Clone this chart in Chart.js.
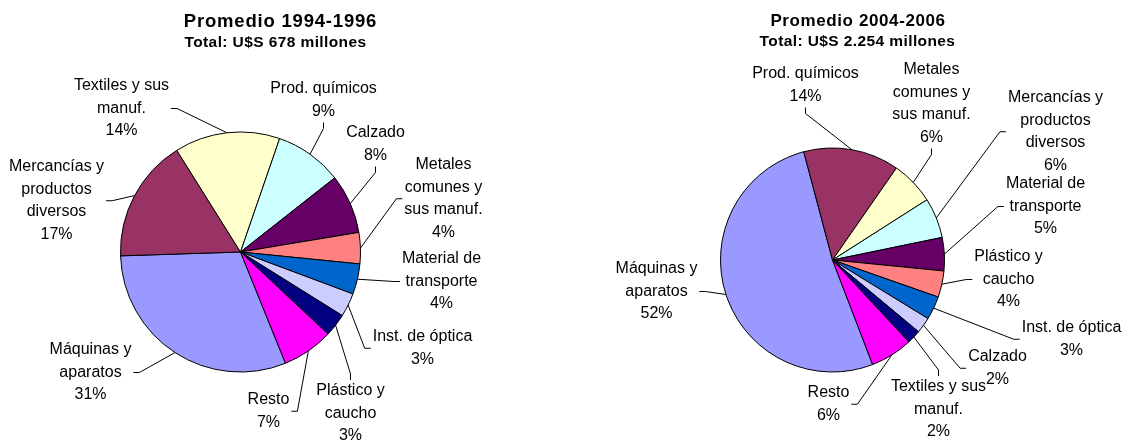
<!DOCTYPE html>
<html>
<head>
<meta charset="utf-8">
<script src="https://cdn.jsdelivr.net/npm/chart.js@4.4.1/dist/chart.umd.min.js"></script>
<style>
  body { margin: 0; background: #fff; width: 1122px; height: 441px; overflow: hidden; position: relative; }
  canvas { position: absolute; top: 0; }
</style>
</head>
<body>
<canvas id="chart1994" width="561" height="441" style="left:0"></canvas>
<canvas id="chart2004" width="561" height="441" style="left:561px"></canvas>
<script>
// Excel default pie palette, applied by slice order
const palette = ['#9999FF', '#993366', '#FFFFCC', '#CCFFFF', '#660066', '#FF8080', '#0066CC', '#CCCCFF', '#000080', '#FF00FF'];

// Promedio 1994-1996 (share of total, %)
const categories1994 = [
    ['Máquinas y', 'aparatos'], ['Mercancías y', 'productos', 'diversos'], ['Textiles y sus', 'manuf.'],
    ['Prod. químicos'], ['Calzado'], ['Metales', 'comunes y', 'sus manuf.'], ['Material de', 'transporte'],
    ['Inst. de óptica'], ['Plástico y', 'caucho'], ['Resto']
];
const shares1994 = [30.6, 16.6, 14.2, 9.1, 8.0, 4.2, 4.1, 3.2, 3.1, 6.9];

// Promedio 2004-2006 (share of total, %)
const categories2004 = [
    ['Máquinas y', 'aparatos'], ['Prod. químicos'], ['Metales', 'comunes y', 'sus manuf.'],
    ['Mercancías y', 'productos', 'diversos'], ['Material de', 'transporte'], ['Plástico y', 'caucho'],
    ['Inst. de óptica'], ['Calzado'], ['Textiles y sus', 'manuf.'], ['Resto']
];
const shares2004 = [51.7, 13.8, 6.3, 5.8, 4.8, 3.8, 3.4, 2.3, 2.0, 6.1];

// label placement, offset from the pie centre (x of text centre, y of first line)
const spots1994 = [[-150, 98], [-184, -85], [-119, -166], [83, -163], [135, -119], [203, -87], [201, 7], [182, 85], [110, 139], [28, 148]];
const spots2004 = [[-176, 9], [-27, -186], [99, -190], [223, -162], [213, -76], [176, -3], [239, 68], [165, 97], [106, 127], [-4, 133]];

// draws titles, outside labels and leader lines
const pieLabels = {
    id: 'pieLabels',
    afterDraw(chart, args, opts) {
        const ctx = chart.ctx;
        const arcs = chart.getDatasetMeta(0).data;
        const values = chart.data.datasets[0].data;
        const total = values.reduce((a, b) => a + b, 0);
        const lineH = 22.5;

        ctx.save();
        ctx.fillStyle = '#000';
        ctx.strokeStyle = '#000';
        ctx.lineWidth = 1;
        ctx.textAlign = 'center';
        ctx.textBaseline = 'middle';

        opts.titles.forEach(t => {
            ctx.font = 'bold ' + t.size + 'px "Liberation Sans", Arial, sans-serif';
            ctx.letterSpacing = t.spacing + 'px';
            ctx.fillText(t.text, t.x, t.y);
        });
        ctx.letterSpacing = '0px';
        ctx.font = '16px "Liberation Sans", Arial, sans-serif';

        arcs.forEach((arc, i) => {
            const lines = chart.data.labels[i].concat(Math.round(values[i] / total * 100) + '%');
            const cx = arc.x + opts.spots[i][0];
            const top = arc.y + opts.spots[i][1];
            lines.forEach((s, k) => ctx.fillText(s, cx, top + k * lineH));

            const w = Math.max(...lines.map(s => ctx.measureText(s).width));
            const x0 = cx - w / 2 - 2, x1 = cx + w / 2 + 2;
            const y0 = top - 11, y1 = top + (lines.length - 1) * lineH + 11;
            const midY = (y0 + y1) / 2;

            const mid = (arc.startAngle + arc.endAngle) / 2;
            const px = arc.x + Math.cos(mid) * arc.outerRadius;
            const py = arc.y + Math.sin(mid) * arc.outerRadius;

            let ex, ey, tx, ty;
            if (px < x0) { ex = x0; ey = midY; tx = x0 - 6; ty = midY; }
            else if (px > x1) { ex = x1; ey = midY; tx = x1 + 6; ty = midY; }
            else if (py < y0) { ex = cx; ey = y0; tx = cx; ty = y0 - 6; }
            else { ex = cx; ey = y1; tx = cx; ty = y1 + 6; }

            ctx.beginPath();
            ctx.moveTo(ex, ey);
            ctx.lineTo(tx, ty);
            ctx.lineTo(px, py);
            ctx.stroke();
        });
        ctx.restore();
    }
};

function makePie(id, categories, shares, rotation, radius, padding, spots, titles) {
    return new Chart(document.getElementById(id), {
        type: 'pie',
        data: {
            labels: categories,
            datasets: [{
                data: shares,
                backgroundColor: palette,
                borderColor: '#000',
                borderWidth: 1
            }]
        },
        options: {
            responsive: false,
            animation: false,
            devicePixelRatio: 1,
            rotation: rotation,
            radius: radius,
            layout: { padding: padding },
            plugins: {
                legend: { display: false },
                tooltip: { enabled: false },
                pieLabels: { spots: spots, titles: titles }
            }
        },
        plugins: [pieLabels]
    });
}

makePie('chart1994', categories1994, shares1994, 158, 120,
    { left: 0, right: 80, top: 63, bottom: 0 }, spots1994, [
        { text: 'Promedio 1994-1996', x: 280.5, y: 21.5, size: 18.5, spacing: 0.8 },
        { text: 'Total: U$S 678 millones', x: 275.5, y: 43, size: 15.5, spacing: 0.4 }
    ]);

makePie('chart2004', categories2004, shares2004, 159, 112,
    { left: 0, right: 18, top: 79, bottom: 0 }, spots2004, [
        { text: 'Promedio 2004-2006', x: 297, y: 21, size: 17, spacing: 0.6 },
        { text: 'Total: U$S 2.254 millones', x: 296.5, y: 42, size: 15.5, spacing: 0.4 }
    ]);
</script>
</body>
</html>
